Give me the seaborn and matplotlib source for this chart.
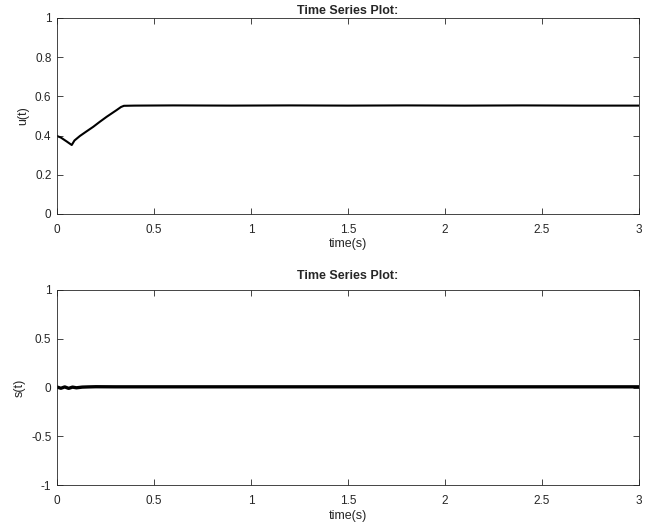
import matplotlib
matplotlib.use("Agg")
import matplotlib.pyplot as plt
import seaborn as sns
import pandas as pd

sns.set_style("ticks")
plt.rcParams['font.family'] = ['Liberation Sans', 'DejaVu Sans']

# u(t) series
t_u = [0.0, 0.02, 0.05, 0.076, 0.09, 0.118, 0.15, 0.187, 0.22, 0.256, 0.28, 0.307, 0.33, 0.345, 0.40,
       0.6, 0.9, 1.2, 1.5, 1.8, 2.1, 2.4, 2.7, 3.0]
u_vals = [0.398, 0.39, 0.37, 0.352, 0.375, 0.398, 0.42, 0.445, 0.47, 0.496, 0.512, 0.53, 0.546, 0.552, 0.553,
          0.554, 0.553, 0.554, 0.553, 0.554, 0.553, 0.554, 0.553, 0.553]

# s(t) series
t_s = [0.0, 0.02, 0.04, 0.06, 0.08, 0.10, 0.13, 0.16, 0.2, 0.3, 0.6, 1.0, 1.5, 2.0, 2.5, 3.0]
s_vals = [0.005, -0.008, 0.006, -0.009, 0.004, -0.003, 0.004, 0.006, 0.008, 0.007, 0.007, 0.007, 0.007, 0.007, 0.007, 0.007]

x_ticks = [0, 0.5, 1, 1.5, 2, 2.5, 3]
x_tick_labels = ["0", "0.5", "1", "1.5", "2", "2.5", "3"]
u_ticks = [0, 0.2, 0.4, 0.6, 0.8, 1]
u_tick_labels = ["0", "0.2", "0.4", "0.6", "0.8", "1"]
s_ticks = [-1, -0.5, 0, 0.5, 1]
s_tick_labels = ["-1", "-0.5", "0", "0.5", "1"]

df_u = pd.DataFrame({"t": t_u, "u": u_vals})
df_s = pd.DataFrame({"t": t_s, "s": s_vals})

fig = plt.figure(figsize=(6.62, 5.29), dpi=100)
ax1 = fig.add_axes([57/662, 1-214/529, 582/662, 196/529])
ax2 = fig.add_axes([57/662, 1-485/529, 582/662, 195/529])

sns.lineplot(data=df_u, x="t", y="u", ax=ax1, color="black", linewidth=1.5, sort=False)
sns.lineplot(data=df_s, x="t", y="s", ax=ax2, color="black", linewidth=2.4, sort=False)

def style(ax, yticks, ylabels, ylim, ylabel, title_pad):
    ax.set_xlim(0, 3)
    ax.set_ylim(*ylim)
    ax.set_xticks(x_ticks)
    ax.set_xticklabels(x_tick_labels)
    ax.set_yticks(yticks)
    ax.set_yticklabels(ylabels)
    ax.set_xlabel("time(s)", fontsize=9, labelpad=2)
    ax.set_ylabel(ylabel, fontsize=9, labelpad=4)
    ax.set_title("Time Series Plot:", fontsize=9, fontweight="bold", pad=title_pad)
    ax.tick_params(direction="in", length=4, width=0.6, labelsize=8.5, top=True, right=True,
                   colors="#262626")
    ax.tick_params(axis="x", pad=7)
    ax.tick_params(axis="y", pad=4)
    for sp in ax.spines.values():
        sp.set_visible(True)
        sp.set_linewidth(0.6)
        sp.set_color("#262626")

style(ax1, u_ticks, u_tick_labels, (0, 1), "u(t)", 3)
style(ax2, s_ticks, s_tick_labels, (-1, 1), "s(t)", 8)

fig.savefig("out.png", dpi=100)
